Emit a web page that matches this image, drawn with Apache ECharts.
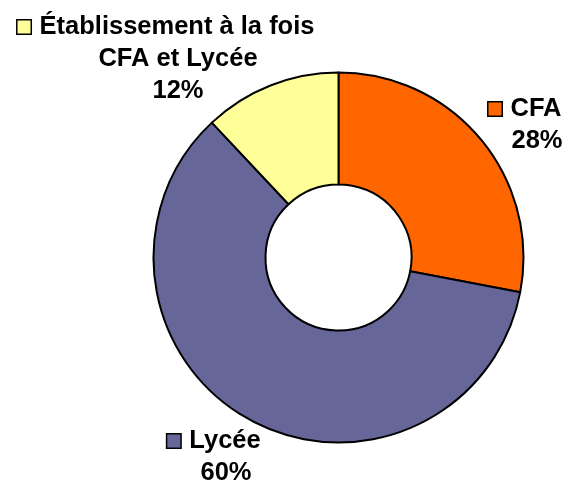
<!DOCTYPE html>
<html>
<head>
<meta charset="utf-8">
<script src="https://cdn.jsdelivr.net/npm/echarts@6/dist/echarts.min.js"></script>
<style>
  html, body { margin: 0; padding: 0; background: #fff; }
  #chart { width: 569px; height: 485px; }
</style>
</head>
<body>
<div id="chart"></div>
<script>
// données
const categories = ['CFA', 'Lycée', 'Établissement à la fois\nCFA et Lycée'];
const values = [28, 60, 12];
const colors = ['#FF6600', '#666699', '#FFFF99'];
// position des étiquettes (centre du bloc de texte)
const labelPos = [[525, 125], [214, 457], [166, 59]];

let myChart = echarts.init(document.getElementById('chart'));

const fmt = (params) => {
    const lines = params.name.split('\n');
    let s = '{sq' + params.dataIndex + '| }{g| }{t|' + lines[0] + '}';
    for (let i = 1; i < lines.length; i++) s += '\n{sp| }{t|' + lines[i] + '}';
    s += '\n{sp| }{t|' + params.value + '%}';
    return s;
};

const rich = {
    g: { width: 9, lineHeight: 32 },
    sp: { width: 24, lineHeight: 32 },
    t: { fontSize: 25.5, fontWeight: 'bold', fontFamily: 'Liberation Sans, Arial, sans-serif', color: '#000', lineHeight: 32 }
};
colors.forEach((c, i) => {
    rich['sq' + i] = { width: 13, height: 13, backgroundColor: c, borderColor: '#000', borderWidth: 1.5, lineHeight: 32 };
});

myChart.setOption({
    animation: false,
    series: [
        {
            type: 'pie',
            center: [338.5, 257.5],
            radius: [73, 185],
            startAngle: 90,
            clockwise: true,
            avoidLabelOverlap: false,
            itemStyle: { borderColor: '#000', borderWidth: 2 },
            emphasis: { disabled: true },
            label: {
                show: true,
                position: 'outside',
                formatter: fmt,
                rich: rich
            },
            labelLine: { show: false },
            labelLayout: (params) => ({
                x: labelPos[params.dataIndex][0],
                y: labelPos[params.dataIndex][1],
                align: 'center',
                verticalAlign: 'middle'
            }),
            data: categories.map((name, i) => ({
                name: name,
                value: values[i],
                itemStyle: { color: colors[i] }
            }))
        }
    ]
});
</script>
</body>
</html>
